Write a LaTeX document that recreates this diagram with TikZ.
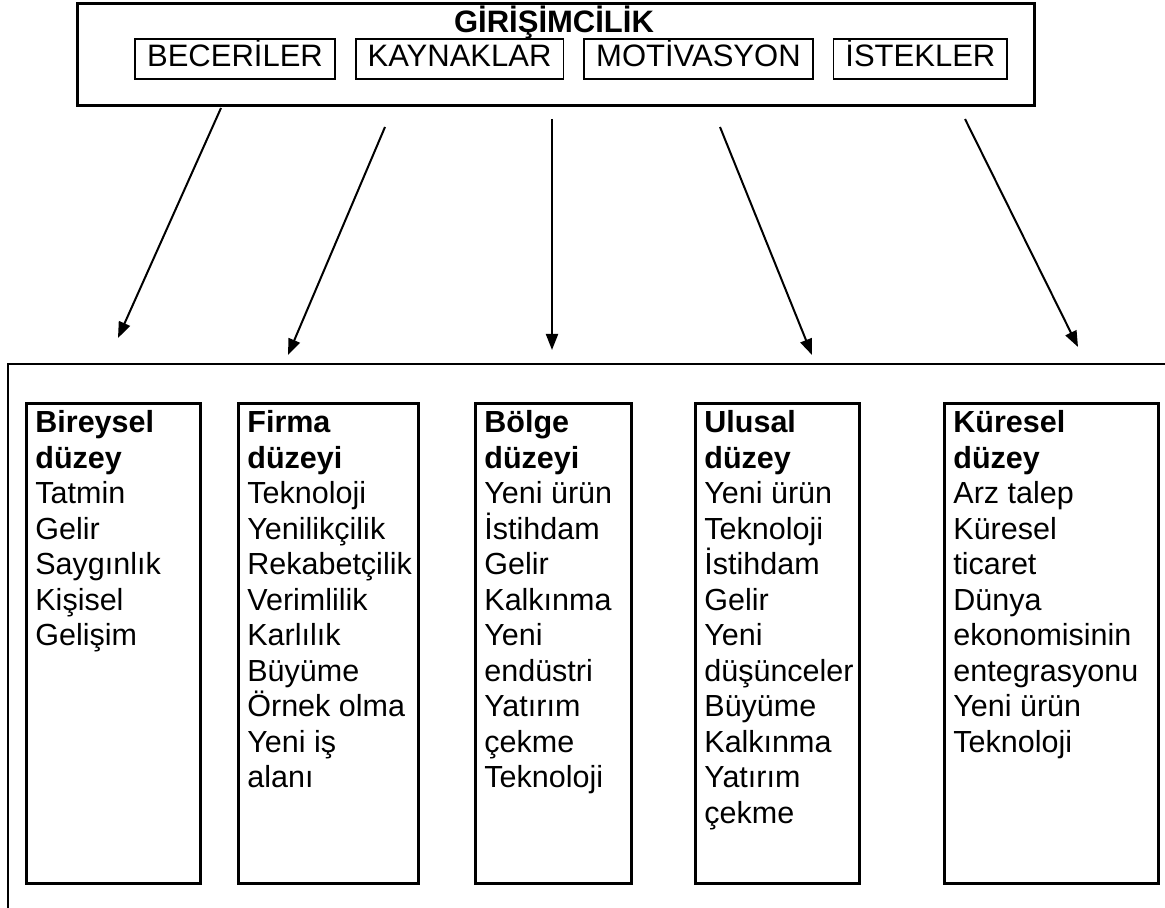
\documentclass[tikz,border=0pt]{standalone}
\usepackage{fontspec}
\setmainfont{Liberation Sans}
\usetikzlibrary{arrows.meta,positioning}

\begin{document}
\begin{tikzpicture}[x=0.5pt,y=-0.5pt,node distance=9.5pt]
\tikzstyle{kutu}=[rectangle, draw, line width=0.9pt, font=\fontsize{15.5}{18}\selectfont, inner xsep=6pt, inner ysep=2.5pt, text height=11.5pt, text depth=3.5pt]
\tikzstyle{duzey}=[rectangle, draw, line width=1.4pt, anchor=north west, minimum height=240pt]
\tikzstyle{liste}=[anchor=north west, inner sep=0pt, align=left, font=\fontsize{15.25}{17.75}\selectfont]
\tikzstyle{pil}=[-{Triangle[length=8pt,width=6pt]}, line width=1pt]

\useasboundingbox (0,0) rectangle (1165,908);
\clip (0,0) rectangle (1165,908);

% ust kutu
\node[rectangle, draw, line width=1.3pt, anchor=north west, minimum width=478.5pt, minimum height=51pt] (girisim) at (76,2) {};
\node[font=\fontsize{15.5}{18}\selectfont\bfseries] (baslik) at (554,22) {GİRİŞİMCİLİK};
\node[kutu] (beceri) at (235,59) {BECERİLER};
\node[kutu][right=of beceri] (kaynak) {KAYNAKLAR};
\node[kutu][right=of kaynak] (motiv) {MOTİVASYON};
\node[kutu][right=of motiv] (istek) {İSTEKLER};

% alt cerceve
\draw[line width=1.3pt] (8,920) -- (8,364) -- (1180,364);

% duzeyler
\node[duzey, minimum width=87pt] (bireysel) at (25,402) {};
\node[liste] (tbireysel) at ([shift={(5pt,-4pt)}]bireysel.north west)
  {\textbf{Bireysel}\\\textbf{düzey}\\Tatmin\\Gelir\\Saygınlık\\Kişisel\\Gelişim};
\node[duzey, minimum width=90pt] (firma) at (237,402) {};
\node[liste] (tfirma) at ([shift={(5pt,-4pt)}]firma.north west)
  {\textbf{Firma}\\\textbf{düzeyi}\\Teknoloji\\Yenilikçilik\\Rekabetçilik\\Verimlilik\\Karlılık\\Büyüme\\Örnek olma\\Yeni iş\\alanı};
\node[duzey, minimum width=78pt] (bolge) at (474,402) {};
\node[liste] (tbolge) at ([shift={(5pt,-4pt)}]bolge.north west)
  {\textbf{Bölge}\\\textbf{düzeyi}\\Yeni ürün\\İstihdam\\Gelir\\Kalkınma\\Yeni\\endüstri\\Yatırım\\çekme\\Teknoloji};
\node[duzey, minimum width=82pt] (ulusal) at (694,402) {};
\node[liste] (tulusal) at ([shift={(5pt,-4pt)}]ulusal.north west)
  {\textbf{Ulusal}\\\textbf{düzey}\\Yeni ürün\\Teknoloji\\İstihdam\\Gelir\\Yeni\\düşünceler\\Büyüme\\Kalkınma\\Yatırım\\çekme};
\node[duzey, minimum width=107pt] (kuresel) at (943,402) {};
\node[liste] (tkuresel) at ([shift={(5pt,-4pt)}]kuresel.north west)
  {\textbf{Küresel}\\\textbf{düzey}\\Arz talep\\Küresel\\ticaret\\Dünya\\ekonomisinin\\entegrasyonu\\Yeni ürün\\Teknoloji};

% oklar
\coordinate (p1) at (221,108); \coordinate (q1) at (118,338);
\coordinate (p2) at (385,127); \coordinate (q2) at (288,355);
\coordinate (p3) at (552,119); \coordinate (q3) at (552,350);
\coordinate (p4) at (720,127); \coordinate (q4) at (812,355);
\coordinate (p5) at (965,119); \coordinate (q5) at (1078,347);
\path[pil] (p1) edge (q1)
           (p2) edge (q2)
           (p3) edge (q3)
           (p4) edge (q4)
           (p5) edge (q5);
\end{tikzpicture}
\end{document}
